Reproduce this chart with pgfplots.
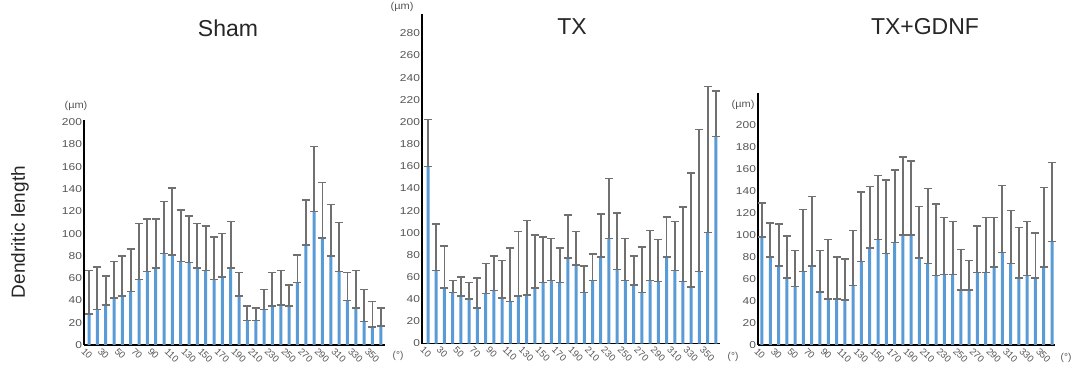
\documentclass[border=0pt]{standalone}
\usepackage{fontspec}
\setmainfont{Liberation Sans}
\usepackage{pgfplots}
\usepackage{pgfplotstable}
\pgfplotsset{compat=1.18}
\definecolor{barblue}{RGB}{91,155,213}
\definecolor{errgray}{RGB}{112,112,112}
\definecolor{ticktext}{RGB}{85,85,85}

\pgfplotstableread{
x m u
10 28 67
20 32 70
30 36 62
40 42 75
50 44 80
60 48 86
70 59 109
80 66 113
90 69 113
100 82 129
110 81 141
120 75 121
130 74 116
140 69 109
150 67 107
160 59 97
170 61 100
180 69 111
190 44 65
200 22 35
210 22 33
220 32 50
230 35 65
240 36 67
250 35 54
260 56 81
270 90 130
280 120 178
290 96 146
300 80 126
310 66 110
320 40 65
330 33 67
340 21 50
350 16 39
360 17 33
}\sham

\pgfplotstableread{
x m u
10 160 202
20 66 108
30 50 88
40 46 57
50 43 60
60 40 55
70 32 59
80 45 72
90 48 79
100 41 75
110 38 86
120 43 101
130 44 111
140 50 98
150 55 96
160 57 95
170 55 86
180 77 116
190 71 101
200 46 70
210 57 81
220 78 117
230 95 149
240 67 118
250 57 95
260 53 79
270 46 87
280 57 102
290 56 94
300 78 114
310 66 110
320 56 123
330 51 154
340 65 193
350 100 232
360 187 228
}\tx

\pgfplotstableread{
x m u
10 98 129
20 80 111
30 72 110
40 61 99
50 53 86
60 67 123
70 72 135
80 48 86
90 42 96
100 42 80
110 41 78
120 54 104
130 76 139
140 88 144
150 96 154
160 83 150
170 93 159
180 100 171
190 100 167
200 79 126
210 74 142
220 63 128
230 64 116
240 64 112
250 50 87
260 50 77
270 66 108
280 66 116
290 71 116
300 84 145
310 74 122
320 61 107
330 63 112
340 61 102
350 71 143
360 94 166
}\gdnf

\pgfplotsset{
  myaxis/.style={
    scale only axis,
    anchor=south west,
    axis lines=left,
    axis line style={-, line width=1.6pt, black},
    ymin=0,
    xtick={10,30,...,350},
    major tick length=0pt,
    tick label style={font=\fontsize{10}{11}\selectfont, text=ticktext},
    xticklabel style={font=\fontsize{9.5}{10}\selectfont, rotate=-45, anchor=north west, inner sep=0pt, xshift=-1pt, yshift=-4pt},
    yticklabel style={inner sep=1.5pt, xscale=1.2, anchor=east},
    /pgf/number format/assume math mode=true,
    ybar, bar width=3pt,
    clip=false,
    every error bar/.append style={line width=1.9pt, draw=errgray},
  },
  mybars/.style={
    fill=barblue, draw=none,
    error bars/.cd,
      y dir=both, y explicit,
      error bar style={draw=errgray, line width=1.9pt},
      error mark options={rotate=90, mark size=4pt, line width=1.5pt, draw=errgray},
  },
}

\begin{document}
\begin{tikzpicture}
\useasboundingbox (0,0) rectangle (1076pt,372pt);

\begin{axis}[myaxis, at={(84pt,27pt)}, width=301pt, height=225pt,
  xmin=4, xmax=365, ymax=202, ytick={0,20,...,200}]
\addplot[mybars] table[x=x, y=m, y error plus expr=\thisrow{u}-\thisrow{m}, y error minus expr=0] {\sham};
\end{axis}

\begin{axis}[myaxis, at={(422pt,28.5pt)}, width=298pt, height=329pt,
  xmin=2.7, xmax=365, ymax=297, ytick={0,20,...,280}]
\addplot[mybars] table[x=x, y=m, y error plus expr=\thisrow{u}-\thisrow{m}, y error minus expr=0] {\tx};
\end{axis}

\begin{axis}[myaxis, at={(758pt,27pt)}, width=297pt, height=252pt,
  xmin=5.2, xmax=363.6, ymax=229, ytick={0,20,...,200}]
\addplot[mybars] table[x=x, y=m, y error plus expr=\thisrow{u}-\thisrow{m}, y error minus expr=0] {\gdnf};
\end{axis}

\node[font=\fontsize{23}{26}\selectfont, text=black!85] at (228pt,344pt) {Sham};
\node[font=\fontsize{23}{26}\selectfont, text=black!85] at (572pt,345pt) {TX};
\node[font=\fontsize{23}{26}\selectfont, text=black!85] at (925pt,345pt) {TX+GDNF};

\node[font=\fontsize{19}{22}\selectfont, text=black!85, rotate=90] at (20pt,140pt) {Dendritic length};

\node[font=\fontsize{10}{11}\selectfont, text=ticktext, xscale=1.1] at (76pt,266pt) {(µm)};
\node[font=\fontsize{10}{11}\selectfont, text=ticktext, xscale=1.1] at (402pt,365pt) {(µm)};
\node[font=\fontsize{10}{11}\selectfont, text=ticktext, xscale=1.1] at (743pt,267pt) {(µm)};

\node[font=\fontsize{10}{11}\selectfont, text=ticktext] at (398pt,16pt) {(°)};
\node[font=\fontsize{10}{11}\selectfont, text=ticktext] at (733pt,15pt) {(°)};
\node[font=\fontsize{10}{11}\selectfont, text=ticktext] at (1066pt,14pt) {(°)};
\end{tikzpicture}
\end{document}
